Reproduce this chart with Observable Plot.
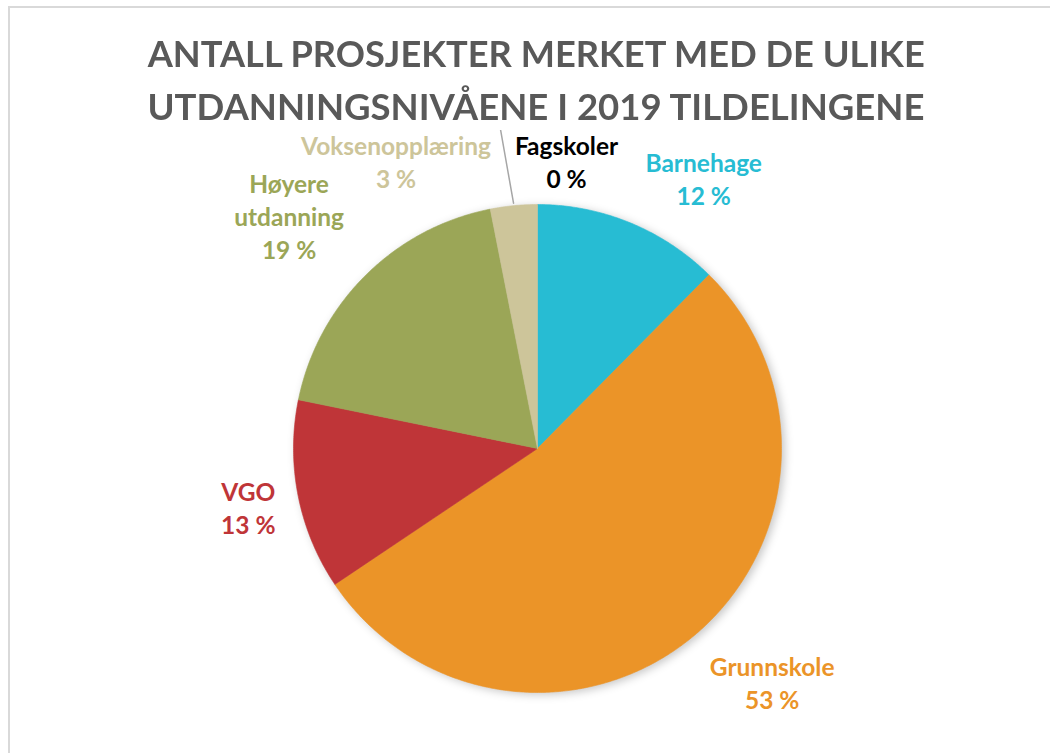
<!DOCTYPE html>
<html><head><meta charset="utf-8">
<script src="https://cdn.jsdelivr.net/npm/d3@7"></script>
<script src="https://cdn.jsdelivr.net/npm/@observablehq/plot@0.6"></script>
<style>
html,body{margin:0;padding:0;background:#fff;width:1050px;height:753px;overflow:hidden;font-family:Lato,"Open Sans",sans-serif;}
#frame{position:absolute;left:8px;top:6px;width:1100px;height:800px;border:2px solid #d9d9d9;box-sizing:border-box;}
.title{position:absolute;left:11px;width:1050px;text-align:center;font-weight:700;color:#595959;font-size:36px;line-height:36px;white-space:nowrap;}
.title span{display:inline-block;transform-origin:center;}
#chart{position:absolute;left:0;top:130px;}
</style></head><body>
<div id="frame"></div>
<div class="title" id="t1" style="top:35px"><span>ANTALL PROSJEKTER MERKET MED DE ULIKE</span></div>
<div class="title" id="t2" style="top:88px"><span>UTDANNINGSNIVÅENE I 2019 TILDELINGENE</span></div>
<div id="chart"></div>
<script>
// ---- data ----
const categories = ["Barnehage", "Grunnskole", "VGO", "Høyere\nutdanning", "Voksenopplæring", "Fagskoler"];
const values = [12.4, 53.2, 12.6, 18.7, 3.1, 0];
const percentLabels = ["12 %", "53 %", "13 %", "19 %", "3 %", "0 %"];
const colors = ["#27bcd3", "#eb9428", "#bf3538", "#9ba657", "#cdc59a", "#000000"];

// ---- layout (pixels) ----
const W = 1050, H = 623, R = 244, CX = 537, CY = 318;
const labelRadius = 1.2;
// label nudges in px (dx, dy) relative to mid-angle position
const labelNudge = [[55, 0], [48, 8], [-2, 2], [-42, -25], [-113, 4], [29, 5]];

const total = d3.sum(values);
let cum = 0;
const slices = categories.map((name, i) => {
  const a0 = cum / total * 2 * Math.PI;
  cum += values[i];
  const a1 = cum / total * 2 * Math.PI;
  return {name, i, a0, a1, mid: (a0 + a1) / 2};
});

// polygon points for each slice (unit circle, clockwise from top)
const piePts = [];
for (const s of slices) {
  if (s.a1 - s.a0 <= 0) continue;
  const n = Math.max(2, Math.ceil((s.a1 - s.a0) / (Math.PI / 360)));
  piePts.push({name: s.name, x: 0, y: 0});
  for (let k = 0; k <= n; k++) {
    const a = s.a0 + (s.a1 - s.a0) * k / n;
    piePts.push({name: s.name, x: Math.sin(a), y: Math.cos(a)});
  }
  piePts.push({name: s.name, x: 0, y: 0});
}

const labels = slices.map((s, i) => ({
  name: s.name,
  text: s.name + "\n" + percentLabels[i],
  x: Math.sin(s.mid) * labelRadius + labelNudge[i][0] / R,
  y: Math.cos(s.mid) * labelRadius - labelNudge[i][1] / R
}));

// leader line for Voksenopplæring
const vi = 4, vs = slices[vi], vl = labels[vi];
const leader = [
  {x: Math.sin(vs.mid) * 1.01, y: Math.cos(vs.mid) * 1.01},
  {x: vl.x + 103 / R, y: vl.y + 40 / R},
  {x: vl.x + 97 / R, y: vl.y + 40 / R}
];

const chart = Plot.plot({
  width: W, height: H,
  marginTop: 0, marginBottom: 0, marginLeft: 0, marginRight: 0,
  style: {fontFamily: "Lato, 'Open Sans', sans-serif", background: "transparent"},
  x: {domain: [-CX / R, (W - CX) / R], axis: null},
  y: {domain: [-(H - CY) / R, CY / R], axis: null},
  color: {domain: categories, range: colors},
  marks: [
    Plot.line(piePts, {x: "x", y: "y", z: "name", fill: "name", stroke: "name", strokeWidth: 0.6}),
    Plot.line(leader, {x: "x", y: "y", stroke: "#a6a6a6", strokeWidth: 1.5}),
    Plot.text(labels, {x: "x", y: "y", text: "text", fill: "name", fontSize: 24.5, fontWeight: 700, lineHeight: 1.35, lineAnchor: "middle", textAnchor: "middle"})
  ]
});
document.getElementById("chart").appendChild(chart);
const pieG = chart.querySelector('g[aria-label="line"]');
if (pieG) pieG.style.filter = "drop-shadow(3px 2px 4px rgba(0,0,0,0.22))";

// fit title lines to reference width
for (const id of ["t1", "t2"]) {
  const sp = document.querySelector("#" + id + " span");
  const w = sp.getBoundingClientRect().width;
  sp.style.transform = "scaleX(" + (777 / w) + ")";
}
</script>
</body></html>
